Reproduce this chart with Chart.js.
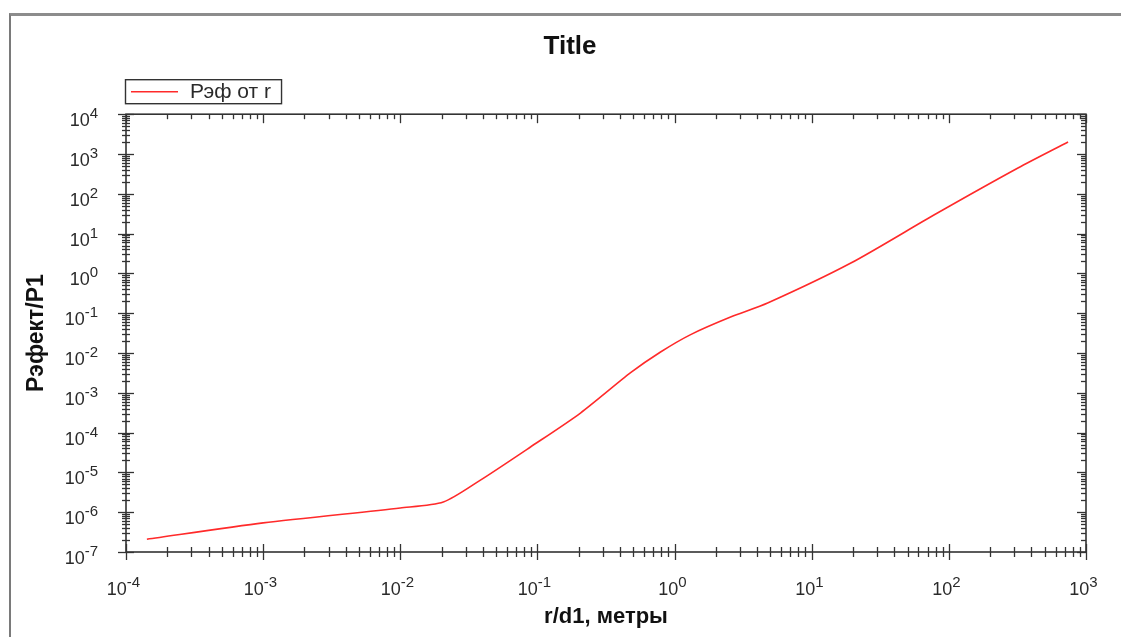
<!DOCTYPE html>
<html lang="ru">
<head>
<meta charset="UTF-8">
<title>Рэф от r</title>
<script src="https://cdn.jsdelivr.net/npm/chart.js"></script>
<style>
    html, body { margin: 0; padding: 0; background: #fff; }
    body { width: 1121px; height: 637px; position: relative; overflow: hidden; }
    /* серая рамка окна */
    .frame {
        position: absolute; left: 9px; top: 13px;
        width: 1200px; height: 700px;
        border-left: 2px solid #7a7a7a;
        border-top: 3px solid #8c8c8c;
    }
    .chart-box { position: absolute; left: 0; top: 0; }
</style>
</head>
<body>
<div class="frame"></div>
<div class="chart-box">
    <canvas id="refChart" width="1121" height="637"></canvas>
</div>

<script>
    // Данные кривой (r/d1 и Рэф/P1)
    const rValues = [1.42e-4, 1e-3, 0.01, 0.0206, 0.0384, 0.089, 0.206, 0.478, 0.79, 1.31, 2.56, 4.77, 19.3, 77.8, 319, 740];
    const pValues = [2.1e-7, 5.4e-7, 1.28e-6, 1.8e-6, 6.4e-6, 4.35e-5, 3.1e-4, 3.2e-3, 0.0106, 0.029, 0.080, 0.18, 1.82, 29.3, 445, 2005];

    // Степени десяти для подписей осей
    const xDecades = [-4, -3, -2, -1, 0, 1, 2, 3];
    const yDecades = [-7, -6, -5, -4, -3, -2, -1, 0, 1, 2, 3, 4];

    const FONT = 'Arial, "Liberation Sans", sans-serif';
    const TEXT = '#2a2a2a';
    const AXIS = '#333';

    // подпись вида 10^n
    function drawPow(ctx, exp, x, baseline, align) {
        ctx.font = '18px ' + FONT;
        const wBase = ctx.measureText('10').width;
        ctx.font = '15px ' + FONT;
        const wExp = ctx.measureText(String(exp)).width;
        const total = wBase + wExp;
        let left = x;
        if (align === 'right') left = x - total;
        if (align === 'center') left = x - total / 2;
        ctx.textAlign = 'left';
        ctx.textBaseline = 'alphabetic';
        ctx.fillStyle = TEXT;
        ctx.font = '18px ' + FONT;
        ctx.fillText('10', left, baseline);
        ctx.font = '15px ' + FONT;
        ctx.fillText(String(exp), left + wBase, baseline - 8);
    }

    function line(ctx, x1, y1, x2, y2) {
        ctx.beginPath();
        ctx.moveTo(x1, y1);
        ctx.lineTo(x2, y2);
        ctx.stroke();
    }

    // рамка графика, засечки и подписи
    const axesPlugin = {
        id: 'axesPlugin',
        afterDatasetsDraw(chart) {
            const { ctx, chartArea: a, scales: { x, y } } = chart;
            ctx.save();
            ctx.strokeStyle = AXIS;
            ctx.lineWidth = 1.6;
            ctx.strokeRect(a.left, a.top, a.right - a.left, a.bottom - a.top);

            ctx.lineWidth = 1.3;
            xDecades.forEach((e, i) => {
                const px = Math.round(x.getPixelForValue(Math.pow(10, e))) + 0.5;
                line(ctx, px, a.bottom - 8, px, a.bottom + 8);
                line(ctx, px, a.top, px, a.top + 9);
                if (i < xDecades.length - 1) {
                    for (let k = 2; k <= 9; k++) {
                        const mx = Math.round(x.getPixelForValue(k * Math.pow(10, e))) + 0.5;
                        line(ctx, mx, a.bottom - 5, mx, a.bottom + 5);
                        line(ctx, mx, a.top, mx, a.top + 5);
                    }
                }
                drawPow(ctx, e, px - 3, a.bottom + 43, 'center');
            });

            yDecades.forEach((e, i) => {
                const py = Math.round(y.getPixelForValue(Math.pow(10, e))) + 0.5;
                line(ctx, a.left - 8, py, a.left + 8, py);
                line(ctx, a.right - 9, py, a.right, py);
                if (i < yDecades.length - 1) {
                    for (let k = 2; k <= 9; k++) {
                        const my = Math.round(y.getPixelForValue(k * Math.pow(10, e))) + 0.5;
                        line(ctx, a.left - 4, my, a.left + 4, my);
                        line(ctx, a.right - 5, my, a.right, my);
                    }
                }
                drawPow(ctx, e, 98, py + 11, 'right');
            });
            ctx.restore();
        },
        afterDraw(chart) {
            // легенда в рамке
            const { ctx, chartArea: a } = chart;
            const ds = chart.data.datasets[0];
            const bx = a.left - 1, by = a.top - 35, bh = 24;
            ctx.save();
            ctx.font = '21px ' + FONT;
            const tw = ctx.measureText(ds.label).width;
            const bw = 64 + tw + 11;
            ctx.fillStyle = '#fff';
            ctx.fillRect(bx, by, bw, bh);
            ctx.strokeStyle = AXIS;
            ctx.lineWidth = 1.4;
            ctx.strokeRect(bx + 0.5, by + 0.5, bw, bh);
            ctx.strokeStyle = ds.borderColor;
            ctx.lineWidth = 1.5;
            line(ctx, bx + 6, by + 12.5, bx + 53, by + 12.5);
            ctx.fillStyle = TEXT;
            ctx.textBaseline = 'alphabetic';
            ctx.fillText(ds.label, bx + 65, by + 19);
            ctx.restore();
        }
    };

    const points = rValues.map((r, i) => ({ x: r, y: pValues[i] }));

    const config = {
        type: 'scatter',
        data: {
            datasets: [{
                label: 'Рэф от r',
                data: points,
                showLine: true,
                borderColor: '#ff2a2a',
                borderWidth: 1.6,
                pointRadius: 0,
                tension: 0.25
            }]
        },
        options: {
            responsive: false,
            animation: false,
            // слева 54 / справа 35, чтобы заголовок стоял по центру рамки
            layout: { padding: { left: 54, right: 35, top: 0, bottom: 0 } },
            plugins: {
                legend: { display: false },
                tooltip: { enabled: false },
                title: {
                    display: true,
                    text: 'Title',
                    color: '#111',
                    font: { family: FONT, size: 26, weight: 'bold' },
                    padding: { top: 31, bottom: 52 }
                }
            },
            scales: {
                x: {
                    type: 'logarithmic',
                    min: 1e-4,
                    max: 1e3,
                    grid: { display: false },
                    border: { display: false },
                    ticks: { display: false },
                    title: {
                        display: true,
                        text: 'r/d1, метры',
                        color: '#111',
                        font: { family: FONT, size: 22, weight: 'bold' },
                        padding: { top: 0, bottom: 7 }
                    },
                    afterFit(s) { s.height = 85; }
                },
                y: {
                    type: 'logarithmic',
                    min: 1e-7,
                    max: 1e4,
                    grid: { display: false },
                    border: { display: false },
                    ticks: { display: false },
                    title: {
                        display: true,
                        text: 'Рэфект/P1',
                        color: '#111',
                        font: { family: FONT, size: 23, weight: 'bold' },
                        padding: { top: -31, bottom: 0 }
                    },
                    afterFit(s) { s.width = 72; }
                }
            }
        },
        plugins: [axesPlugin]
    };

    const refChart = new Chart(document.getElementById('refChart'), config);
</script>
</body>
</html>
